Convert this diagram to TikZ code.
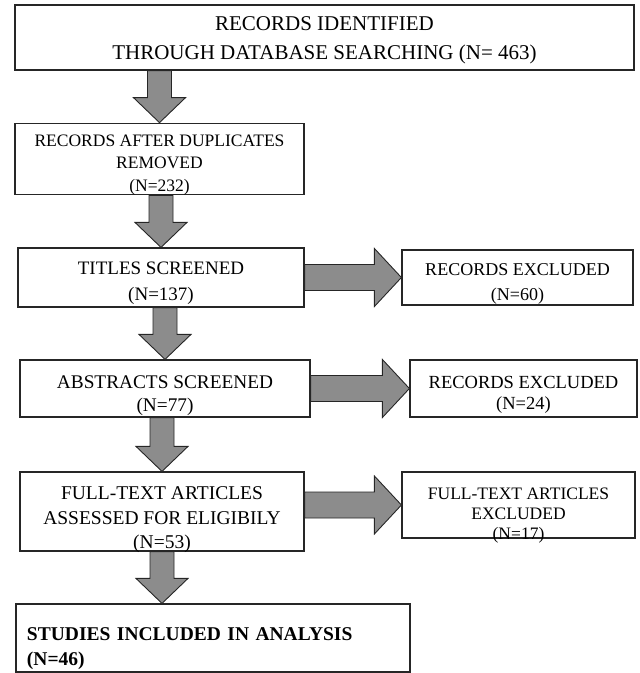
\documentclass[tikz,border=0pt]{standalone}
\usepackage{fontspec}
\setmainfont{Liberation Serif}
\usetikzlibrary{calc}

% block arrows, start point and tip
\newcommand{\blockdown}[2]{%
  \draw[blk] let \p1=(#1), \p2=(#2) in
    (\x1-12pt,\y1) -- (\x1-12pt,\y2+25pt) -- (\x1-26pt,\y2+25pt) -- (\x1,\y2)
    -- (\x1+26pt,\y2+25pt) -- (\x1+12pt,\y2+25pt) -- (\x1+12pt,\y1) -- cycle;}
\newcommand{\blockright}[2]{%
  \draw[blk] let \p1=(#1), \p2=(#2) in
    (\x1,\y2+13pt) -- (\x2-27pt,\y2+13pt) -- (\x2-27pt,\y2+29pt) -- (\x2,\y2)
    -- (\x2-27pt,\y2-29pt) -- (\x2-27pt,\y2-13pt) -- (\x1,\y2-13pt) -- cycle;}
% box text, set a little lower than the middle
\newcommand{\boxtext}[3][c]{\raisebox{-#2}[\height][\depth]{\begin{tabular}{@{}#1@{}}#3\end{tabular}}}

\begin{document}
\begin{tikzpicture}[x=1pt, y=-1pt,
  box/.style={rectangle, draw=black!85, line width=1.2pt, inner sep=2pt, align=center},
  blk/.style={draw=black!85, line width=0.9pt, fill=black!45, line join=miter}]
\useasboundingbox (0,0) rectangle (640,673);

\node[box, minimum width=619pt, minimum height=65pt, font=\fontsize{21}{29}\selectfont] (ident) at (324.5,37.5) {\boxtext{2pt}{RECORDS IDENTIFIED\\THROUGH DATABASE SEARCHING (N= 463)}};
\node[box, minimum width=289pt, minimum height=70pt, font=\fontsize{17.5}{22.5}\selectfont] (dupl) at (159.5,159) {\boxtext{5pt}{RECORDS AFTER DUPLICATES\\REMOVED\\(N=232)}};
\node[box, minimum width=286pt, minimum height=59pt, font=\fontsize{19}{26}\selectfont] (titles) at (161,277.5) {\boxtext{5pt}{TITLES SCREENED\\(N=137)}};
\node[box, minimum width=231pt, minimum height=55pt, font=\fontsize{18}{25}\selectfont] (exclA) at (517.5,277.5) {\boxtext{5pt}{RECORDS EXCLUDED\\(N=60)}};
\node[box, minimum width=290pt, minimum height=57pt, font=\fontsize{19.3}{23}\selectfont] (abstr) at (165,388.5) {\boxtext{7pt}{ABSTRACTS SCREENED\\(N=77)}};
\node[box, minimum width=227pt, minimum height=57pt, font=\fontsize{18.5}{21}\selectfont] (exclB) at (523.5,388.5) {\boxtext{6pt}{RECORDS EXCLUDED\\(N=24)}};
\node[box, minimum width=284pt, minimum height=79pt, font=\fontsize{19.5}{24.5}\selectfont] (fulltext) at (162,511.5) {\boxtext{8pt}{FULL-TEXT ARTICLES\\ASSESSED FOR ELIGIBILY\\(N=53)}};
\node[box, minimum width=233pt, minimum height=66pt, font=\fontsize{17.5}{20}\selectfont] (exclC) at (518.5,505) {\boxtext{10pt}{FULL-TEXT ARTICLES\\EXCLUDED\\(N=17)}};
\node[box, align=left, inner xsep=11pt, text width=372pt, minimum height=68pt, font=\fontsize{19.5}{25}\selectfont\bfseries] (incl) at (213,638) {\boxtext[l]{10pt}{STUDIES INCLUDED IN ANALYSIS\\(N=46)}};

\blockdown{dupl.north |- ident.south}{dupl.north}
\blockdown{titles.north |- dupl.south}{titles.north}
\blockdown{abstr.north |- titles.south}{abstr.north}
\blockdown{fulltext.north |- abstr.south}{fulltext.north}
\blockdown{fulltext.south}{fulltext.south |- incl.north}

\blockright{titles.east}{exclA.west}
\blockright{abstr.east}{exclB.west}
\blockright{fulltext.east}{exclC.west}

\end{tikzpicture}
\end{document}
